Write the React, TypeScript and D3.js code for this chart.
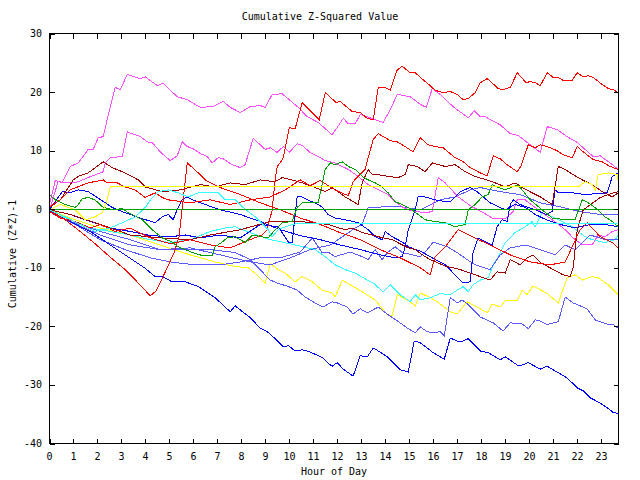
import React from "react";
import { scaleLinear, line, range } from "d3";

type Pt = [number, number];

// hours on the x axis, values on the y axis
const hourTicks = range(0, 24);
const valueTicks = [-40, -30, -20, -10, 0, 10, 20, 30];

// [hour, cumulative value]
const redTop: Pt[] = [[0,-0.4],[0.45,-1.5],[1.07,-2.1],[1.7,-3.2],[2.11,-2.6],[2.74,-3.8],[3.36,-3.2],[4.2,-4.9],[5.03,-5.9],[5.86,-5.2],[6.7,-6.1],[7.53,-6.6],[8.36,-5.2],[8.86,-4.4],[9.07,-3.5],[9.28,-0.1],[9.4,5.0],[9.49,7.3],[9.61,7.9],[9.74,8.8],[9.99,13.9],[10.24,13.8],[10.53,18.2],[11.24,15.3],[11.49,19.9],[11.95,18.2],[12.11,18.4],[12.61,16.7],[12.95,16.5],[13.24,15.5],[13.49,15.3],[13.7,20.8],[13.99,20.8],[14.2,20.3],[14.49,23.8],[14.7,24.4],[15.03,23.3],[15.24,23.3],[15.57,22.1],[15.86,21.1],[16.07,20.3],[16.4,19.9],[16.7,20.1],[16.99,19.6],[17.24,18.7],[17.45,18.9],[17.74,19.9],[17.95,21.6],[18.24,22.3],[18.7,20.6],[18.9,20.4],[19.2,20.8],[19.49,23.3],[19.86,21.6],[20.03,21.8],[20.24,21.6],[20.45,21.1],[20.74,23.3],[20.99,22.5],[21.2,22.5],[21.4,22.0],[21.78,22.0],[21.99,23.3],[22.24,22.6],[22.45,22.8],[22.65,22.5],[23.03,21.3],[23.28,20.6],[23.49,20.4],[23.7,19.9]];
const pinkTop: Pt[] = [[0,0.8],[0.24,4.9],[0.53,4.5],[0.86,7.3],[1.2,7.9],[1.61,10.2],[1.82,10.2],[2.03,12.2],[2.24,12.4],[2.53,17.5],[2.74,20.8],[2.95,20.4],[3.24,23.0],[3.78,22.3],[3.99,22.6],[4.49,21.1],[4.74,21.5],[5.32,19.2],[5.74,18.7],[6.28,17.4],[6.78,17.5],[7.24,18.4],[7.53,17.4],[7.95,16.5],[8.36,17.5],[8.78,17.7],[8.99,17.4],[9.28,19.6],[9.7,19.7],[10.36,17.4],[10.74,15.8],[11.2,14.8],[11.78,12.7],[12.24,15.5],[12.45,14.6],[12.74,14.6],[12.95,16.2],[13.9,14.8],[14.2,17.0],[14.49,19.6],[15.03,19.2],[15.45,17.9],[15.7,17.4],[15.95,20.6],[16.28,19.6],[16.82,17.5],[17.45,15.6],[17.7,16.8],[17.95,15.8],[18.15,15.8],[18.78,14.4],[19.2,12.9],[19.53,12.6],[20.03,11.0],[20.45,9.7],[20.74,14.1],[21.15,13.6],[21.57,12.4],[21.99,11.4],[22.65,9.0],[22.95,9.1],[23.36,7.9],[23.7,6.8]];
const pinkMid: Pt[] = [[0,-0.1],[0.36,4.7],[0.86,4.5],[1.07,4.5],[1.61,5.4],[2.24,6.4],[2.32,7.9],[2.53,8.8],[3.03,9.0],[3.24,13.2],[3.78,12.4],[4.07,11.5],[4.28,11.4],[4.61,9.8],[5.03,8.3],[5.32,9.1],[5.53,11.5],[5.74,10.7],[5.99,10.3],[6.28,9.5],[6.57,9.0],[6.78,7.9],[7.03,8.8],[7.24,8.6],[7.61,7.6],[7.95,7.1],[8.15,7.6],[8.49,12.1],[8.99,10.2],[9.2,10.5],[9.49,9.7],[9.74,10.7],[9.99,9.7],[10.32,11.2],[10.53,10.9],[10.86,9.7],[11.28,8.8],[11.49,8.3],[11.9,7.9],[12.45,6.8],[12.86,5.6],[13.28,4.2],[14.11,2.5],[14.4,1.3],[14.7,0.4],[14.95,-0.1],[15.32,-0.4],[15.65,-0.6],[15.95,-0.4],[16.2,5.4],[16.49,4.5],[17.03,2.1],[17.61,0.4],[17.86,-0.1],[18.45,-1.5],[18.99,-1.6],[19.32,-0.4],[19.49,1.6],[19.82,1.6],[20.36,-0.1],[20.95,-1.8],[21.49,-3.5],[21.82,-4.9],[22.2,-6.1],[22.61,-6.1],[22.86,-4.4],[23.15,-4.7],[23.45,-3.8],[23.7,-3.5]];
const redMid: Pt[] = [[0,0.4],[0.45,1.6],[0.86,3.3],[1.61,4.5],[2.24,5.0],[2.4,4.5],[2.82,4.5],[3.15,3.8],[3.57,3.3],[3.99,2.0],[4.4,2.8],[4.7,2.0],[4.95,1.6],[5.86,1.1],[6.7,1.6],[7.53,0.8],[8.36,1.6],[9.2,2.1],[9.82,3.3],[10.45,5.0],[10.86,4.0],[11.28,4.9],[11.9,3.3],[12.45,2.3],[12.65,4.7],[13.15,6.8],[13.28,8.8],[13.49,11.9],[13.7,12.9],[14.2,11.7],[14.49,11.5],[14.74,10.9],[15.15,9.8],[15.45,12.2],[15.78,11.0],[16.07,10.7],[16.4,10.5],[16.9,8.8],[17.24,8.1],[17.53,7.1],[17.95,6.2],[18.24,5.7],[18.49,9.1],[18.78,8.6],[19.07,7.6],[19.49,6.4],[19.65,7.4],[19.95,11.0],[20.24,10.5],[20.45,11.0],[20.74,10.7],[21.15,10.0],[21.4,9.3],[21.78,8.8],[21.99,10.7],[22.24,9.8],[22.65,8.5],[23.03,8.1],[23.36,7.3],[23.7,6.8]];
const redLow: Pt[] = [[0,-0.1],[0.65,-1.8],[1.28,-3.8],[1.9,-5.9],[2.53,-8.2],[3.15,-10.3],[3.7,-12.6],[4.2,-14.8],[4.45,-13.9],[4.7,-11.8],[4.95,-9.6],[5.2,-7.3],[5.4,-4.7],[5.57,1.6],[5.74,7.9],[6.2,6.2],[6.49,5.0],[7.11,3.7],[7.95,2.5],[8.78,1.1],[9.61,-0.1],[10.45,-1.5],[11.28,-2.6],[12.11,-4.0],[12.95,-5.2],[13.78,-6.9],[14.61,-8.3],[15.45,-10.0],[15.86,-11.2],[16.07,-8.1],[16.49,-6.4],[17.03,-3.5],[17.61,-4.7],[18.36,-6.1],[19.2,-7.8],[20.03,-9.0],[20.86,-9.5],[21.49,-9.0],[22.11,-3.5],[22.4,-2.3],[22.95,-4.7],[23.45,-5.7],[23.7,-6.6]];
const darkRedUp: Pt[] = [[0,0.3],[0.45,1.6],[0.99,5.0],[1.2,5.6],[1.61,6.2],[2.24,8.1],[2.61,7.1],[3.15,6.2],[3.7,5.0],[3.99,3.8],[4.7,3.0],[5.45,3.3],[6.28,4.2],[6.9,3.8],[7.53,4.5],[8.15,4.2],[8.78,5.0],[9.4,4.7],[9.7,5.4],[10.11,5.0],[10.53,4.5],[11.07,3.7],[11.49,3.0],[11.78,3.7],[12.32,2.1],[12.86,0.8],[13.03,4.5],[13.28,6.8],[13.45,5.9],[13.7,5.9],[14.11,5.6],[14.53,5.4],[14.82,5.9],[14.95,7.6],[15.32,7.3],[15.65,6.4],[15.95,7.9],[16.49,7.3],[16.9,7.6],[17.32,6.4],[17.74,5.6],[18.45,4.7],[18.99,3.8],[19.4,4.5],[19.7,3.7],[20.11,2.8],[20.45,2.1],[20.95,0.8],[21.2,7.3],[21.49,6.8],[21.82,5.9],[22.2,5.0],[22.61,4.2],[23.03,3.0],[23.45,2.1],[23.7,2.8]];
const darkRedLow: Pt[] = [[0,-0.1],[0.86,-0.9],[2.11,-2.6],[3.36,-4.4],[4.61,-4.9],[5.86,-5.2],[6.7,-4.4],[7.95,-3.5],[9.2,-2.1],[10.45,-2.1],[11.61,-2.6],[11.9,-3.0],[12.32,-3.5],[12.61,-3.2],[13.03,-4.0],[13.45,-4.4],[13.7,-4.7],[14.28,-5.2],[14.7,-6.1],[14.95,-6.6],[15.24,-6.9],[15.65,-8.1],[15.86,-8.6],[16.49,-9.7],[17.11,-10.3],[17.74,-11.2],[18.36,-12.1],[18.65,-10.7],[18.99,-10.9],[19.2,-8.6],[19.61,-9.5],[19.9,-8.3],[20.15,-7.8],[20.45,-9.1],[20.99,-10.3],[21.4,-11.2],[21.7,-11.5],[21.82,-10.0],[21.99,-3.5],[22.24,-0.1],[22.95,2.0],[23.49,2.8],[23.7,3.0]];
const blueLow: Pt[] = [[0,-0.4],[0.86,-2.1],[1.7,-3.8],[2.53,-6.1],[3.15,-7.8],[3.99,-10.1],[4.4,-11.5],[4.7,-11.5],[5.11,-12.4],[5.66,-12.4],[6.2,-13.2],[6.61,-14.3],[6.9,-15.1],[7.32,-16.7],[7.53,-17.5],[7.74,-16.5],[7.95,-17.2],[8.36,-18.5],[8.78,-20.3],[9.07,-20.9],[9.4,-22.1],[9.74,-23.5],[9.95,-23.3],[10.24,-24.2],[10.53,-24.0],[10.74,-24.2],[11.15,-24.9],[11.4,-25.4],[11.65,-26.4],[11.78,-26.8],[11.99,-26.2],[12.24,-27.3],[12.65,-28.5],[12.95,-25.0],[13.24,-25.2],[13.49,-23.7],[13.7,-24.2],[14.07,-25.2],[14.61,-27.4],[14.95,-27.8],[15.2,-22.5],[15.45,-22.8],[15.74,-23.7],[15.99,-24.5],[16.45,-25.6],[16.7,-22.0],[16.99,-22.5],[17.24,-22.5],[17.45,-22.1],[17.95,-24.2],[18.28,-24.5],[18.49,-25.0],[18.78,-25.7],[18.99,-25.2],[19.49,-26.6],[19.7,-26.6],[19.95,-26.2],[20.45,-27.3],[20.74,-26.8],[21.15,-27.8],[21.57,-28.8],[21.99,-30.5],[22.24,-31.0],[22.53,-32.2],[22.95,-33.1],[23.24,-33.9],[23.49,-34.7],[23.7,-34.9]];
const blueJumpA: Pt[] = [[0,-0.1],[0.86,-0.9],[1.7,-2.1],[2.53,-3.2],[3.36,-3.8],[4.2,-4.5],[5.03,-4.7],[5.66,-4.4],[6.28,-4.9],[7.11,-4.4],[7.95,-4.9],[8.78,-2.6],[9.53,-3.0],[9.95,-5.6],[10.11,-5.7],[10.32,2.1],[10.53,2.1],[10.74,1.6],[11.07,1.1],[11.36,0.4],[11.61,-0.9],[11.9,-1.5],[12.32,-1.8],[12.86,-2.3],[13.28,-3.5],[13.57,-4.7],[13.86,-5.2],[13.99,-3.8],[14.28,-4.7],[14.7,-5.6],[14.95,-6.4],[15.53,-7.3],[15.86,-8.1],[16.49,-9.5],[16.9,-11.2],[17.24,-12.6],[17.53,-12.4],[17.65,-7.4],[17.86,-4.9],[18.24,-5.7],[18.45,-6.1],[18.65,-3.0],[18.86,-1.8],[19.07,-2.1],[19.2,0.8],[19.32,1.6],[19.61,0.8],[20.24,-0.1],[20.7,-0.9],[20.95,-0.4],[21.07,3.3],[21.2,2.8],[21.78,2.8],[22.32,2.5],[23.24,2.8],[23.45,5.6],[23.7,6.2]];
const blueJumpB: Pt[] = [[0,-0.1],[0.53,3.0],[0.86,2.8],[1.2,3.3],[1.61,3.0],[1.99,2.0],[2.24,1.3],[2.61,0.3],[3.15,-0.6],[3.78,-1.5],[4.4,-2.3],[4.7,-1.3],[4.95,-0.9],[5.15,-1.8],[5.32,-0.1],[5.53,1.6],[5.74,2.1],[5.95,1.6],[6.49,0.8],[7.11,-0.1],[7.95,-0.9],[8.78,-2.1],[9.61,-3.5],[10.45,-4.5],[11.28,-5.2],[12.11,-6.1],[12.95,-6.9],[13.78,-7.8],[14.4,-8.3],[14.7,-8.1],[14.82,-6.4],[14.95,-3.5],[15.24,-0.1],[15.36,2.1],[15.65,2.1],[16.07,1.6],[16.49,1.3],[16.7,1.3],[16.9,2.1],[17.11,3.0],[17.53,3.7],[17.82,3.0],[18.07,2.1],[18.36,1.1],[18.78,0.3],[18.99,-0.1],[19.4,0.8],[19.82,0.3],[20.24,-0.9],[20.7,-1.8],[21.28,-2.6],[21.9,-3.2],[22.53,-2.6],[23.15,-2.6],[23.7,-3.0]];
const lightBlueLow: Pt[] = [[0,-0.4],[0.86,-2.1],[2.11,-4.4],[3.36,-6.1],[4.61,-6.9],[5.86,-6.9],[6.7,-6.9],[7.74,-7.4],[8.36,-8.6],[9.2,-12.1],[9.49,-12.6],[9.95,-13.2],[10.32,-13.8],[10.65,-15.0],[11.07,-16.0],[11.4,-16.7],[11.78,-15.8],[11.99,-16.0],[12.4,-16.7],[12.65,-17.9],[12.95,-17.0],[13.24,-17.7],[13.7,-16.7],[14.07,-17.9],[14.61,-19.4],[14.95,-20.4],[15.24,-21.1],[15.45,-20.1],[15.74,-20.9],[15.99,-21.1],[16.28,-20.9],[16.45,-21.6],[16.7,-15.1],[16.99,-16.0],[17.2,-15.5],[17.45,-16.3],[17.95,-18.4],[18.49,-19.4],[18.9,-20.8],[19.2,-19.4],[19.7,-19.6],[19.95,-20.4],[20.24,-18.9],[20.45,-19.1],[20.74,-19.7],[20.99,-19.4],[21.2,-19.2],[21.49,-15.0],[21.82,-16.0],[22.4,-17.0],[22.74,-18.9],[23.24,-19.6],[23.45,-19.6],[23.7,-20.3]];
const lightBlueMid: Pt[] = [[0,-0.4],[0.86,-2.1],[2.11,-3.8],[3.36,-5.2],[4.61,-6.9],[5.86,-6.6],[7.11,-7.8],[8.36,-9.0],[9.2,-9.5],[10.03,-8.3],[10.86,-6.9],[11.7,-6.1],[12.32,-4.4],[12.74,-3.2],[13.03,-2.6],[13.28,0.3],[13.99,0.4],[14.7,0.4],[15.45,-0.1],[16.28,1.6],[16.9,2.1],[17.53,3.3],[17.95,3.7],[18.78,3.0],[19.61,2.5],[20.45,1.1],[21.28,0.4],[22.11,-0.4],[22.95,-0.9],[23.7,-0.9]];
const lightBlueZig: Pt[] = [[0,-0.4],[1.07,-2.6],[2.11,-5.2],[3.15,-6.9],[4.2,-8.3],[5.03,-9.0],[6.07,-9.5],[7.11,-9.5],[7.95,-9.0],[8.78,-8.3],[9.61,-8.3],[10.45,-7.3],[10.95,-4.9],[11.36,-7.4],[11.61,-7.3],[11.9,-8.1],[12.53,-7.3],[13.03,-8.1],[13.28,-8.6],[13.57,-6.9],[13.86,-8.6],[14.11,-7.3],[14.4,-6.4],[14.7,-7.4],[15.45,-8.1],[15.74,-6.9],[15.99,-5.6],[16.57,-6.4],[16.99,-7.4],[17.4,-8.6],[17.74,-9.5],[18.36,-10.3],[18.78,-7.8],[19.2,-6.6],[19.82,-6.1],[20.45,-6.9],[21.07,-7.8],[21.49,-6.1],[21.9,-6.9],[22.53,-4.4],[23.15,-5.2],[23.7,-5.2]];
const yellowLow: Pt[] = [[0,-0.1],[0.86,-1.5],[2.11,-3.2],[3.36,-4.4],[4.61,-6.1],[5.86,-7.8],[6.9,-9.0],[7.74,-9.8],[8.28,-10.0],[8.65,-11.2],[8.99,-12.6],[9.2,-9.3],[9.53,-10.3],[9.82,-10.9],[10.24,-12.4],[10.53,-11.5],[10.95,-12.4],[11.36,-13.8],[11.78,-14.3],[11.9,-15.0],[12.2,-12.1],[12.53,-12.9],[13.03,-14.1],[13.57,-15.5],[14.07,-18.0],[14.28,-18.2],[14.49,-14.6],[14.95,-15.6],[15.24,-16.5],[15.45,-14.3],[15.86,-15.1],[16.15,-15.8],[16.7,-17.5],[16.99,-17.9],[17.4,-15.8],[17.82,-16.7],[18.24,-17.7],[18.45,-16.2],[18.78,-16.7],[18.99,-15.6],[19.49,-15.6],[19.7,-13.8],[19.9,-14.6],[20.15,-13.1],[20.74,-14.4],[21.2,-16.0],[21.57,-11.7],[21.9,-11.2],[22.2,-12.1],[22.61,-11.5],[22.86,-11.7],[23.28,-12.9],[23.7,-14.6]];
const yellowFlat: Pt[] = [[0,-0.1],[0.45,0.8],[1.07,-0.1],[1.49,-1.8],[1.9,-1.3],[2.2,-0.6],[2.4,1.6],[2.53,3.8],[22.03,3.8],[22.32,4.7],[22.61,4.2],[22.74,3.3],[22.86,5.9],[23.28,6.2],[23.65,5.9],[23.7,4.7]];
const cyanFlat: Pt[] = [[0,-0.1],[0.65,-1.3],[1.28,-2.6],[1.9,-3.8],[2.53,-3.2],[3.15,-2.1],[3.57,-1.3],[3.99,0.3],[4.28,2.0],[4.53,3.0],[4.95,3.3],[5.36,2.8],[5.78,2.1],[6.2,2.8],[6.7,2.8],[7.03,2.8],[7.32,1.6],[7.74,1.6],[8.03,0.4],[8.57,-1.3],[9.11,-3.5],[9.28,-4.7],[9.53,-3.5],[9.82,-3.0],[10.24,-2.5],[23.7,-2.5]];
const cyanLow: Pt[] = [[0,-0.4],[0.86,-1.8],[1.7,-3.2],[2.53,-3.8],[3.36,-4.4],[4.2,-5.2],[5.03,-5.7],[5.86,-5.2],[6.7,-3.8],[7.32,-3.2],[7.74,-3.0],[8.36,-4.0],[9.2,-5.2],[10.03,-5.9],[11.07,-6.9],[11.49,-8.1],[11.9,-9.5],[12.32,-10.3],[12.74,-10.9],[13.24,-12.1],[13.49,-12.6],[13.9,-14.1],[14.2,-12.9],[14.61,-14.6],[15.03,-15.8],[15.24,-14.6],[15.45,-15.5],[15.86,-15.1],[16.28,-14.4],[16.7,-14.6],[16.99,-13.8],[17.24,-13.2],[17.45,-14.1],[17.65,-12.9],[17.95,-12.1],[18.28,-11.7],[18.49,-9.5],[18.7,-8.1],[18.99,-5.7],[19.4,-4.0],[19.82,-3.0],[20.11,-2.1],[20.24,-3.0],[20.53,-0.6],[20.95,-1.3],[21.2,-1.8],[21.78,-3.0],[22.32,-4.7],[22.61,-5.2],[23.15,-5.7],[23.57,-5.2],[23.7,-4.4]];
const greenWander: Pt[] = [[0,2.5],[0.24,1.6],[0.65,0.8],[1.07,0.3],[1.2,0.8],[1.36,1.8],[1.61,2.0],[1.9,1.6],[2.2,0.4],[2.61,-0.1],[3.03,0.1],[3.28,-0.6],[3.86,-1.8],[4.28,-3.5],[4.7,-4.9],[5.11,-5.6],[5.36,-6.4],[5.66,-6.9],[5.95,-7.4],[6.36,-7.9],[6.78,-7.9],[6.9,-6.4],[7.2,-5.6],[7.4,-4.9],[7.74,-4.7],[8.15,-5.7],[8.45,-4.4],[8.86,-4.7],[9.11,-4.9],[9.4,-3.5],[9.7,-2.3],[10.11,-2.1],[10.32,0.3],[10.53,1.1],[11.2,1.1],[11.49,6.8],[11.7,7.9],[11.9,7.6],[12.2,8.1],[12.45,7.3],[12.74,6.8],[13.03,5.6],[13.28,5.0],[13.57,4.5],[13.86,3.8],[14.11,2.8],[14.4,1.3],[14.7,0.8],[15.11,-0.1],[15.36,-0.9],[15.65,-1.8],[16.07,-2.1],[16.49,-2.3],[16.9,-3.0],[17.32,-2.6],[17.45,-0.1],[17.74,0.8],[18.03,2.1],[18.28,2.5],[18.45,4.2],[18.7,3.7],[18.99,3.3],[19.28,3.8],[19.53,4.1],[20.03,1.6],[20.53,-0.1],[20.95,-1.5],[21.49,-1.8],[21.9,-1.8],[22.2,1.6],[22.45,1.1],[22.86,-0.1],[23.15,-1.3],[23.45,-2.1],[23.7,-3.0]];
const greenFlat: Pt[] = [[0,0],[23.7,0]];

const seriesData = [yellowLow, cyanLow, lightBlueLow, lightBlueZig, lightBlueMid, pinkTop, pinkMid, blueLow, blueJumpB, blueJumpA, darkRedLow, darkRedUp, redLow, redMid, redTop, greenWander, yellowFlat, cyanFlat, greenFlat];
const seriesColors = ["#ffff00", "#33ffff", "#5a5aff", "#5a5aff", "#5a5aff", "#ff50ff", "#ff50ff", "#0000ff", "#0000ff", "#0000ff", "#a00000", "#a00000", "#ff0000", "#ff0000", "#ff0000", "#00a000", "#ffff00", "#33ffff", "#00a000"];

export default function App() {
  const left = 49.5, right = 618.5, top = 33.5, bottom = 443.5;
  const x = scaleLinear().domain([0, 23.71]).range([left, right]);
  const y = scaleLinear().domain([-40, 30]).range([bottom, top]);
  const path = line<Pt>().x((d) => x(d[0])).y((d) => y(d[1]));
  const font = "'DejaVu Sans Mono', monospace";

  return (
    <svg width={640} height={480} style={{ position: "absolute", left: 0, top: 0, background: "#fff" }}>
      <rect x={0} y={0} width={640} height={480} fill="#fff" />
      {seriesData.map((d, i) => (
        <path key={i} d={path(d) || ""} fill="none" stroke={seriesColors[i]} strokeWidth={1} shapeRendering="crispEdges" />
      ))}
      <rect x={left} y={top} width={right - left} height={bottom - top} fill="none" stroke="#000" strokeWidth={1} shapeRendering="crispEdges" />
      {hourTicks.map((h) => (
        <g key={h}>
          <line x1={Math.round(x(h)) + 0.5} x2={Math.round(x(h)) + 0.5} y1={bottom} y2={bottom - 5} stroke="#000" shapeRendering="crispEdges" />
          <line x1={Math.round(x(h)) + 0.5} x2={Math.round(x(h)) + 0.5} y1={top} y2={top + 5} stroke="#000" shapeRendering="crispEdges" />
          <text x={x(h)} y={459.5} textAnchor="middle" fontFamily={font} fontSize={10}>{h}</text>
        </g>
      ))}
      {valueTicks.map((v) => (
        <g key={v}>
          <line x1={left} x2={left + 5} y1={Math.round(y(v)) + 0.5} y2={Math.round(y(v)) + 0.5} stroke="#000" shapeRendering="crispEdges" />
          <line x1={right} x2={right - 5} y1={Math.round(y(v)) + 0.5} y2={Math.round(y(v)) + 0.5} stroke="#000" shapeRendering="crispEdges" />
          <text x={42} y={y(v) + 3.5} textAnchor="end" fontFamily={font} fontSize={10}>{v}</text>
        </g>
      ))}
      <text x={320} y={20} textAnchor="middle" fontFamily={font} fontSize={10}>Cumulative Z-Squared Value</text>
      <text x={334} y={475} textAnchor="middle" fontFamily={font} fontSize={10}>Hour of Day</text>
      <text transform="translate(16,254) rotate(-90)" textAnchor="middle" fontFamily={font} fontSize={10}>Cumulative (Z*Z)-1</text>
    </svg>
  );
}
